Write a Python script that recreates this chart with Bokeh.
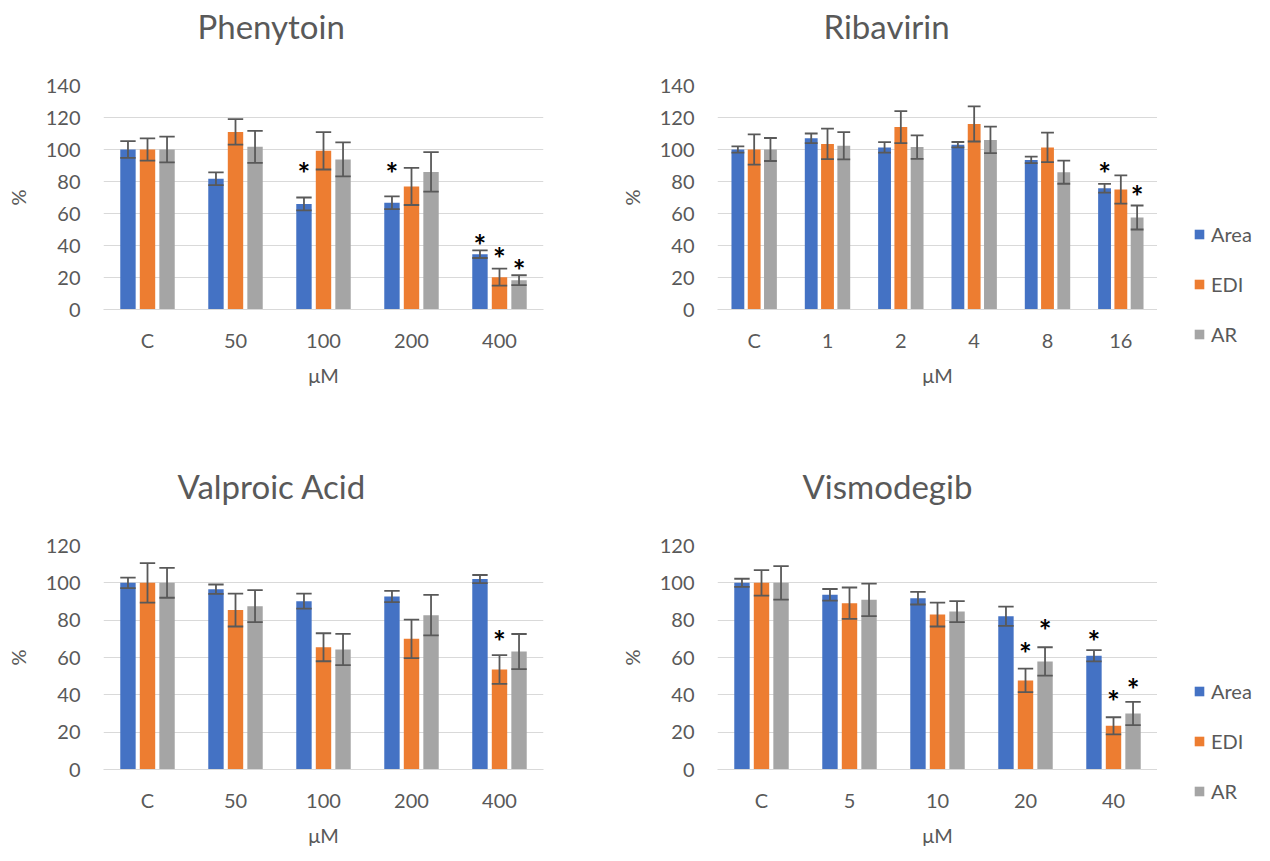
from bokeh.plotting import figure
from bokeh.models import ColumnDataSource, Title, Legend, LegendItem, FactorRange, Range1d
from bokeh.transform import dodge
from bokeh.layouts import row, column
from bokeh.core.properties import value
from bokeh.embed import file_html
from bokeh.resources import INLINE

FONT = "Lato"
TXT = "#595959"
GRID = "#d9d9d9"

series = ["Area", "EDI", "AR"]
colors = ["#4472C4", "#ED7D31", "#A5A5A5"]
x_label = "μM"
y_label = "%"

# ---- Phenytoin ----
phe_cats = ["C", "50", "100", "200", "400"]
phe_area = [100, 81.7, 66, 66.7, 34.6]
phe_area_err = [5.2, 4, 4, 4, 2.4]
phe_edi = [100, 111, 99.2, 76.9, 20.2]
phe_edi_err = [7, 8, 11.7, 11.6, 5.3]
phe_ar = [100, 101.7, 93.8, 86, 18.3]
phe_ar_err = [8, 10, 10.6, 12.3, 3.1]
phe_star_cat = ["100", "200", "400", "400", "400"]
phe_star_series = ["Area", "Area", "Area", "EDI", "AR"]
phe_star_y = [89, 89, 44, 36, 28.7]

# ---- Ribavirin ----
rib_cats = ["C", "1", "2", "4", "8", "16"]
rib_area = [100, 107, 101.3, 103, 93.5, 75.8]
rib_area_err = [2, 3, 3.3, 1.7, 2, 2.7]
rib_edi = [100, 103.5, 114, 116, 101.3, 75]
rib_edi_err = [9.5, 9.5, 10, 11, 9.2, 8.8]
rib_ar = [100, 102.3, 101.5, 106, 85.8, 57.5]
rib_ar_err = [7.2, 8.5, 7.3, 8.3, 7.2, 7.5]
rib_star_cat = ["16", "16"]
rib_star_series = ["Area", "AR"]
rib_star_y = [89, 74.4]

# ---- Valproic Acid ----
val_cats = ["C", "50", "100", "200", "400"]
val_area = [100, 96.6, 90.2, 92.7, 102]
val_area_err = [2.8, 2.5, 4, 3, 2.2]
val_edi = [100, 85.4, 65.5, 70, 53.6]
val_edi_err = [10.6, 8.8, 7.5, 10.3, 7.7]
val_ar = [100, 87.5, 64.3, 82.7, 63.2]
val_ar_err = [8, 8.6, 8.4, 10.9, 9.4]
val_star_cat = ["400"]
val_star_series = ["EDI"]
val_star_y = [72]

# ---- Vismodegib ----
vis_cats = ["C", "5", "10", "20", "40"]
vis_area = [100, 93.6, 91.8, 82.1, 60.9]
vis_area_err = [2.2, 3.1, 3.4, 5.2, 3]
vis_edi = [100, 89.1, 83, 47.7, 23.4]
vis_edi_err = [6.8, 8.4, 6.4, 6.3, 4.6]
vis_ar = [100, 90.9, 84.6, 57.9, 30]
vis_ar_err = [9, 8.7, 5.6, 7.6, 6.2]
vis_star_cat = ["20", "20", "40", "40", "40"]
vis_star_series = ["EDI", "AR", "Area", "EDI", "AR"]
vis_star_y = [65.4, 78.2, 72, 39.8, 46.4]

OFFS = [-0.222, 0.0, 0.222]
BAR_W = 0.175


def make_panel(title, title_off, cats, vals, errs, star_cat, star_series, star_y, ymax,
               bl, br, bt, bb):
    p = figure(x_range=FactorRange(*cats), y_range=(0, ymax), frame_width=440, frame_height=224,
               min_border_left=bl, min_border_right=br, min_border_top=bt, min_border_bottom=bb,
               output_backend="svg", toolbar_location=None, background_fill_color="white",
               border_fill_color="white")
    p.outline_line_color = None
    p.xgrid.grid_line_color = None
    p.ygrid.grid_line_color = GRID
    p.ygrid.grid_line_width = 1
    p.yaxis.ticker = list(range(0, ymax + 1, 20))

    for ax in (p.xaxis[0], p.yaxis[0]):
        ax.major_tick_line_color = None
        ax.minor_tick_line_color = None
        ax.major_tick_in = 0
        ax.major_tick_out = 0
        ax.minor_tick_in = 0
        ax.minor_tick_out = 0
        ax.major_label_text_font = FONT
        ax.major_label_text_font_size = "20px"
        ax.major_label_text_color = TXT
        ax.axis_label_text_font = FONT
        ax.axis_label_text_font_size = "20px"
        ax.axis_label_text_font_style = "normal"
        ax.axis_label_text_color = TXT
    p.yaxis.axis_line_color = None
    p.xaxis.axis_line_color = GRID
    p.yaxis.major_label_standoff = 23
    p.yaxis.axis_label = y_label
    p.yaxis.axis_label_standoff = 13
    p.xaxis.major_label_standoff = 18
    p.xaxis.axis_label = x_label
    p.xaxis.axis_label_standoff = 8

    data = dict(cat=cats)
    for s, v, e in zip(series, vals, errs):
        data[s] = v
        data[s + "_lo"] = [a - b for a, b in zip(v, e)]
        data[s + "_hi"] = [a + b for a, b in zip(v, e)]
    src = ColumnDataSource(data)

    for s, c, off in zip(series, colors, OFFS):
        p.vbar(x=dodge("cat", off, range=p.x_range), top=s, width=BAR_W, source=src,
               fill_color=c, line_color=None)
    for s, off in zip(series, OFFS):
        xc = dodge("cat", off, range=p.x_range)
        xl = dodge("cat", off - BAR_W / 2, range=p.x_range)
        xr = dodge("cat", off + BAR_W / 2, range=p.x_range)
        kw = dict(source=src, line_color=TXT, line_width=1.8)
        p.segment(x0=xc, x1=xc, y0=s + "_lo", y1=s + "_hi", **kw)
        p.segment(x0=xl, x1=xr, y0=s + "_lo", y1=s + "_lo", **kw)
        p.segment(x0=xl, x1=xr, y0=s + "_hi", y1=s + "_hi", **kw)

    for s, off in zip(series, OFFS):
        sc = [c for c, ss in zip(star_cat, star_series) if ss == s]
        sy = [y for y, ss in zip(star_y, star_series) if ss == s]
        if not sc:
            continue
        ssrc = ColumnDataSource(dict(cat=sc, y=sy))
        p.text(x=dodge("cat", off, range=p.x_range), y="y", text=value("*"), source=ssrc,
               text_font=value(FONT), text_font_size="30px", text_font_style="bold",
               text_color="black", text_align="center", text_baseline="middle", y_offset=6)

    p.title = Title(text=title + "\n ", align="left", offset=title_off, text_font=FONT,
                    text_font_size="33px", text_font_style="normal", text_color=TXT,
                    vertical_align="bottom", standoff=0)
    return p


def legend_column(height, bottoms):
    f = figure(width=113, height=height, x_range=Range1d(0, 1), y_range=Range1d(0, 1),
               min_border=0, min_border_left=0, min_border_right=0, min_border_top=0,
               min_border_bottom=0, x_axis_location=None, y_axis_location=None,
               output_backend="svg", toolbar_location=None, background_fill_color="white",
               border_fill_color="white")
    f.outline_line_color = None
    f.grid.grid_line_color = None
    items = []
    for s, c in zip(series, colors):
        # a swatch renderer kept outside the visible ranges; only its legend entry shows
        r = f.vbar(x=[-5], top=[-5], bottom=[-6], width=0.1, fill_color=c, line_color=None)
        items.append(LegendItem(label=s, renderers=[r]))
    for b in bottoms:
        lg = Legend(items=items, location=(36, b), orientation="vertical",
                    border_line_color=None, background_fill_alpha=0, padding=0, margin=0,
                    glyph_width=12, glyph_height=12, label_height=24, spacing=26,
                    label_standoff=6, label_text_font=FONT, label_text_font_size="20px",
                    label_text_color=TXT)
        f.add_layout(lg)
    return f


p1 = make_panel("Phenytoin", 94, phe_cats, [phe_area, phe_edi, phe_ar],
                [phe_area_err, phe_edi_err, phe_ar_err],
                phe_star_cat, phe_star_series, phe_star_y, 140, 103, 73, 85, 121)
p2 = make_panel("Ribavirin", 106, rib_cats, [rib_area, rib_edi, rib_ar],
                [rib_area_err, rib_edi_err, rib_ar_err],
                rib_star_cat, rib_star_series, rib_star_y, 140, 92, 0, 85, 121)
p3 = make_panel("Valproic Acid", 74, val_cats, [val_area, val_edi, val_ar],
                [val_area_err, val_edi_err, val_ar_err],
                val_star_cat, val_star_series, val_star_y, 120, 103, 73, 115, 92)
p4 = make_panel("Vismodegib", 85, vis_cats, [vis_area, vis_edi, vis_ar],
                [vis_area_err, vis_edi_err, vis_ar_err],
                vis_star_cat, vis_star_series, vis_star_y, 120, 92, 0, 115, 92)

leg = legend_column(861, [515, 58])

layout = row(column(p1, p3, spacing=0), column(p2, p4, spacing=0), leg, spacing=0)
open("out.html", "w").write(file_html(layout, INLINE))
